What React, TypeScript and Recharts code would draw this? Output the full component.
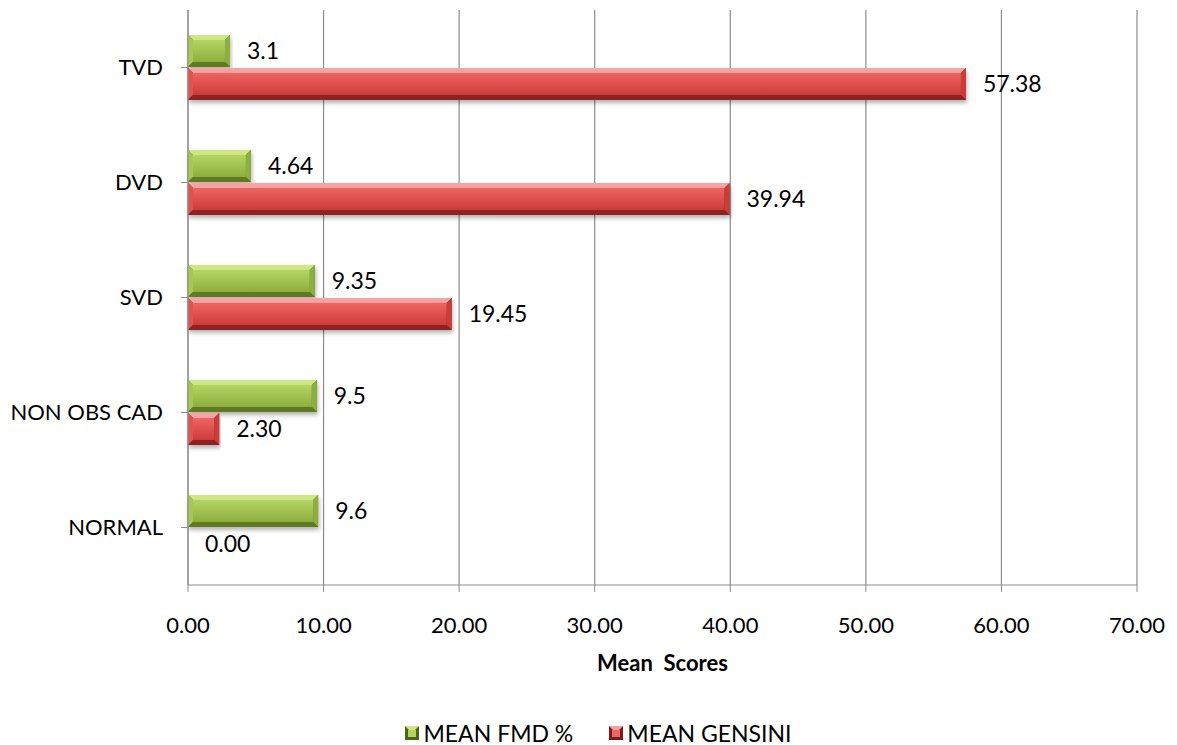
import { Bar, BarChart, CartesianGrid, LabelList, Legend, XAxis, YAxis, Label } from "recharts"

const groups = ["TVD", "DVD", "SVD", "NON OBS CAD", "NORMAL"]
const fmd = [3.1, 4.64, 9.35, 9.5, 9.6]
const gensini = [57.38, 39.94, 19.45, 2.3, 0]
const xTicks = [0, 10, 20, 30, 40, 50, 60, 70]

const data = groups.map((group, i) => ({ group, fmd: fmd[i], gensini: gensini[i] }))

const FONT = "Lato, 'Open Sans', sans-serif"

const palette = {
  fmd: { top: "#cde882", face1: "#b4d462", face2: "#8eae3f", bottom: "#5f7a22", edge: "#4e661a", side: "#a8c856" },
  gensini: { top: "#f7a3a1", face1: "#ee6562", face2: "#cc3b39", bottom: "#8c2322", edge: "#7a1d1c", side: "#e0524f" },
}

// bevelled bar, like the old office "3D" bar preset
function BevelBar(props: any) {
  const { x, y, width, height, dataKey } = props
  if (!width || width <= 0) return null
  const c = palette[dataKey as "fmd" | "gensini"]
  const b = Math.min(5, width / 2)
  const x2 = x + width
  const y2 = y + height
  return (
    <g filter="url(#barShadow)">
      <rect x={x} y={y} width={width} height={height} fill={c.edge} />
      <polygon points={`${x},${y} ${x2},${y} ${x2 - b},${y + b} ${x + b},${y + b}`} fill={c.top} />
      <polygon points={`${x},${y} ${x + b},${y + b} ${x + b},${y2 - b} ${x},${y2}`} fill={c.side} />
      <polygon points={`${x2},${y} ${x2},${y2} ${x2 - b},${y2 - b} ${x2 - b},${y + b}`} fill={c.face2} />
      <polygon points={`${x},${y2} ${x + b},${y2 - b} ${x2 - b},${y2 - b} ${x2},${y2}`} fill={c.bottom} />
      <rect x={x + b} y={y + b} width={Math.max(0, width - 2 * b)} height={height - 2 * b} fill={`url(#face-${dataKey})`} />
    </g>
  )
}

function LegendBox() {
  const item = (key: "fmd" | "gensini", text: string) => (
    <span style={{ display: "inline-flex", alignItems: "center", margin: "0 18px" }}>
      <svg width={14} height={14} style={{ marginRight: 4 }}>
        <rect x={0} y={0} width={14} height={14} fill={palette[key].edge} />
        <polygon points="0,0 14,0 10,4 4,4" fill={palette[key].top} />
        <rect x={3} y={4} width={8} height={7} fill={palette[key].face1} />
      </svg>
      <span>{text}</span>
    </span>
  )
  return (
    <div
      style={{
        textAlign: "center",
        fontFamily: FONT,
        fontSize: 23,
        color: "#000",
        height: 28,
        lineHeight: "28px",
        paddingLeft: 60,
      }}
    >
      {item("fmd", "MEAN FMD %")}
      {item("gensini", "MEAN GENSINI")}
    </div>
  )
}

export default function App() {
  return (
    <div style={{ position: "absolute", left: 0, top: 0, background: "#fff" }}>
      <BarChart
        width={1177}
        height={745}
        data={data}
        layout="vertical"
        barGap={1}
        barCategoryGap={25}
        margin={{ top: 10, right: 40, left: 0, bottom: 0 }}
      >
        <defs>
          <linearGradient id="face-fmd" x1="0" y1="0" x2="0" y2="1">
            <stop offset="0%" stopColor={palette.fmd.face1} />
            <stop offset="100%" stopColor={palette.fmd.face2} />
          </linearGradient>
          <linearGradient id="face-gensini" x1="0" y1="0" x2="0" y2="1">
            <stop offset="0%" stopColor={palette.gensini.face1} />
            <stop offset="100%" stopColor={palette.gensini.face2} />
          </linearGradient>
          <filter id="barShadow" x="-5%" y="-20%" width="110%" height="160%">
            <feDropShadow dx="1" dy="3" stdDeviation="2" floodColor="#000" floodOpacity="0.3" />
          </filter>
        </defs>
        <CartesianGrid horizontal={false} stroke="#8c8c8c" strokeWidth={1.2} />
        <XAxis
          type="number"
          domain={[0, 70]}
          ticks={xTicks}
          tickFormatter={(v: number) => v.toFixed(2)}
          height={132}
          stroke="#8c8c8c"
          tickSize={7}
          tickMargin={25}
          tick={{ fill: "#000", fontSize: 22, fontFamily: FONT }}
          interval={0}
        >
          <Label
            value={"Mean\u00a0 Scores"}
            position="insideTop"
            offset={70}
            style={{ fill: "#000", fontSize: 22, fontWeight: 700, fontFamily: FONT }}
          />
        </XAxis>
        <YAxis
          type="category"
          dataKey="group"
          width={188}
          stroke="#8c8c8c"
          tickSize={7}
          tickMargin={18}
          tick={{ fill: "#000", fontSize: 22, fontFamily: FONT }}
        />
        <Legend verticalAlign="bottom" content={() => <LegendBox />} />
        <Bar dataKey="fmd" fill={palette.fmd.face1} shape={<BevelBar dataKey="fmd" />} isAnimationActive={false}>
          <LabelList dataKey="fmd" position="right" offset={17} fill="#000" fontSize={23} fontFamily={FONT} />
        </Bar>
        <Bar dataKey="gensini" fill={palette.gensini.face1} shape={<BevelBar dataKey="gensini" />} isAnimationActive={false}>
          <LabelList
            dataKey="gensini"
            position="right"
            offset={17}
            fill="#000"
            fontSize={23}
            fontFamily={FONT}
            formatter={(v: any) => Number(v).toFixed(2)}
          />
        </Bar>
      </BarChart>
    </div>
  )
}
